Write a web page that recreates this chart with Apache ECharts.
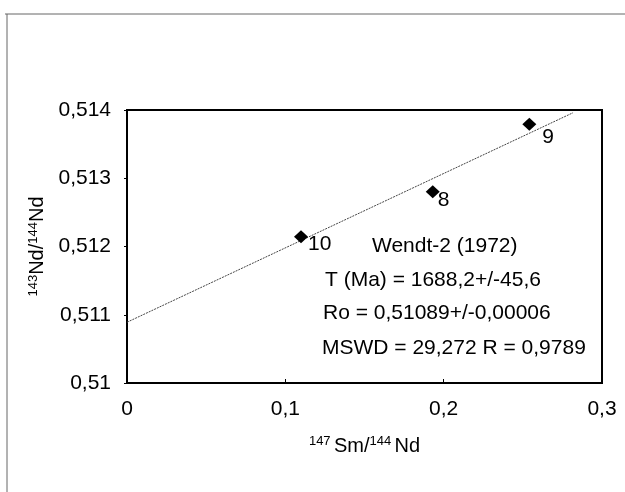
<!DOCTYPE html>
<html>
<head>
<meta charset="utf-8">
<script src="https://cdn.jsdelivr.net/npm/echarts@6/dist/echarts.min.js"></script>
<style>
  html, body { margin: 0; padding: 0; background: #fff; }
  #chart-container { width: 625px; height: 492px; }
</style>
</head>
<body>
<div id="chart-container"></div>
<script>
var dom = document.getElementById("chart-container");
var myChart = echarts.init(dom, null, { renderer: "canvas" });

// samples (147Sm/144Nd, 143Nd/144Nd)
var sampleNames = ["10", "8", "9"];
var smNd = [0.1099, 0.1931, 0.2541];
var ndNd = [0.512144, 0.512803, 0.51379];
// label offsets for each sample number
var labelOffsets = [[0, 8], [-2, 9], [6, 13]];

// isochron line end points
var lineX = [0, 0.2817];
var lineY = [0.51089, 0.51396];

var infoLines = [
  "Wendt-2 (1972)",
  "T (Ma) = 1688,2+/-45,6",
  "Ro = 0,51089+/-0,00006",
  "MSWD = 29,272 R = 0,9789"
];

var font = "Liberation Sans, Arial, sans-serif";

function comma(v) {
  return String(+v.toFixed(4)).replace(".", ",");
}

var points = sampleNames.map(function (n, i) {
  return {
    name: n,
    value: [smNd[i], ndNd[i]],
    label: { offset: labelOffsets[i] }
  };
});

var infoPos = [[372, 247], [325, 281], [323, 314], [322, 349]];

var nameRich = {
  m: { fontSize: 20, fontFamily: font, color: "#000", lineHeight: 22 },
  sup: { fontSize: 13, fontFamily: font, color: "#000", verticalAlign: "top", lineHeight: 22 }
};

var option = {
  animation: false,
  grid: {
    left: 127,
    right: 23,
    top: 110,
    bottom: 109,
    show: true,
    borderColor: "#000",
    borderWidth: 2
  },
  xAxis: {
    type: "value",
    min: 0,
    max: 0.3,
    interval: 0.1,
    name: "{sup|147} {m|Sm/}{sup|144} {m|Nd}",
    nameLocation: "middle",
    nameGap: 52,
    nameTextStyle: { rich: nameRich },
    axisLine: { show: true, lineStyle: { color: "#000", width: 2 } },
    axisTick: { show: true, inside: true, length: 4, lineStyle: { color: "#000" } },
    splitLine: { show: false },
    axisLabel: {
      margin: 16,
      fontSize: 21,
      fontFamily: font,
      color: "#000",
      formatter: comma
    }
  },
  yAxis: {
    type: "value",
    min: 0.51,
    max: 0.514,
    interval: 0.001,
    name: "{sup|143}{m|Nd/}{sup|144}{m|Nd}",
    nameLocation: "middle",
    nameGap: 77,
    nameTextStyle: { rich: nameRich },
    axisLine: { show: true, lineStyle: { color: "#000", width: 2 } },
    axisTick: { show: true, length: 3, lineStyle: { color: "#000" } },
    splitLine: { show: false },
    axisLabel: {
      margin: 16,
      fontSize: 21,
      fontFamily: font,
      color: "#000",
      padding: [0, 0, 6, 0],
      formatter: comma
    }
  },
  series: [
    {
      type: "line",
      data: lineX.map(function (x, i) { return [x, lineY[i]]; }),
      showSymbol: false,
      symbol: "none",
      lineStyle: { color: "#444", width: 1, type: [2, 1] },
      z: 1
    },
    {
      type: "scatter",
      data: points,
      symbol: "diamond",
      symbolSize: [14, 13],
      itemStyle: { color: "#000", opacity: 1 },
      label: {
        show: true,
        position: "right",
        distance: 0,
        fontSize: 21,
        fontFamily: font,
        color: "#000",
        formatter: function (p) { return p.name; }
      },
      z: 3
    }
  ],
  graphic: [
    {
      type: "line",
      shape: { x1: 7, y1: 14, x2: 7, y2: 492 },
      style: { stroke: "#666", lineWidth: 1 }
    },
    {
      type: "line",
      shape: { x1: 5, y1: 14, x2: 625, y2: 14 },
      style: { stroke: "#666", lineWidth: 1 }
    }
  ].concat(infoLines.map(function (t, i) {
    return {
      type: "text",
      left: infoPos[i][0],
      top: infoPos[i][1] - 11,
      style: {
        text: t,
        fontSize: 21,
        fontFamily: font,
        fill: "#000"
      }
    };
  }))
};

myChart.setOption(option);
window.addEventListener("resize", myChart.resize);
</script>
</body>
</html>
